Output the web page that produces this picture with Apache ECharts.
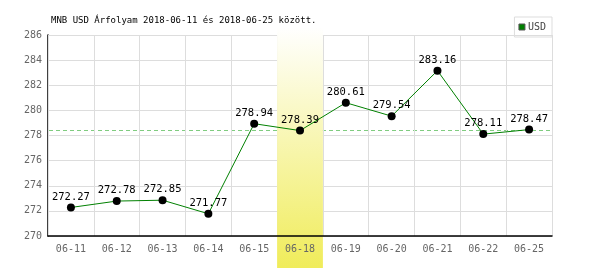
<!DOCTYPE html>
<html><head><meta charset="utf-8">
<script src="https://cdn.jsdelivr.net/npm/echarts@6/dist/echarts.min.js"></script>
<style>html,body{margin:0;padding:0;background:#fff}#c{width:600px;height:270px}</style>
</head><body><div id="c"></div>
<script>
const categories = ['06-11','06-12','06-13','06-14','06-15','06-18','06-19','06-20','06-21','06-22','06-25'];
const usdValues = [272.27,272.78,272.85,271.77,278.94,278.39,280.61,279.54,283.16,278.11,278.47];
const referenceLine = 278.47;
const highlightCategory = '06-18';
const titleText = 'MNB USD Árfolyam 2018-06-11 és 2018-06-25 között.';
const seriesName = 'USD';

const mono = 'DejaVu Sans Mono';
const chart = echarts.init(document.getElementById('c'), null, {renderer:'canvas'});
const option = {
  animation:false,
  title:{text:titleText,left:46,top:11,textStyle:{fontFamily:mono,fontSize:9,fontWeight:'normal',color:'#000'}},
  legend:{data:[{name:seriesName,icon:'rect',itemStyle:{color:'#008000',borderColor:'#555',borderWidth:1}}],right:48,top:17,
    itemWidth:6,itemHeight:6,itemGap:3,padding:[5,6,5,4],borderColor:'#ddd',borderWidth:1,
    textStyle:{fontFamily:mono,fontSize:10,color:'#444',padding:[0,0,0,-2]}},
  grid:{left:48,right:48,top:35,bottom:34,show:false},
  xAxis:{type:'category',data:categories,boundaryGap:true,
    axisLine:{lineStyle:{color:'#000',width:1.5}},axisTick:{show:false},
    axisLabel:{fontFamily:mono,fontSize:10,color:'#666',margin:8},
    splitLine:{show:true,lineStyle:{color:'#dddddd',width:1}},z:3},
  yAxis:{type:'value',min:270,max:286,interval:2,
    axisLine:{show:true,lineStyle:{color:'#000',width:1.5}},axisTick:{show:false},
    axisLabel:{fontFamily:mono,fontSize:10,color:'#666',margin:6},
    splitLine:{lineStyle:{color:'#dddddd',width:1}}},
  series:[{name:seriesName,type:'line',data:usdValues,z:5,
    lineStyle:{color:'#008000',width:1},itemStyle:{color:'#000'},
    symbol:'circle',symbolSize:8,
    label:{show:true,position:'top',distance:1,fontFamily:mono,fontSize:10.5,color:'#000'}
  }]
};
chart.setOption(option);
const idx = categories.indexOf(highlightCategory);
const cx = chart.convertToPixel({xAxisIndex:0}, idx);
const c2 = chart.convertToPixel({xAxisIndex:0}, idx+1);
const w = c2 - cx;
const x0 = chart.convertToPixel({xAxisIndex:0}, 0) - w/2;
const x1 = chart.convertToPixel({xAxisIndex:0}, categories.length-1) + w/2;
const ry = Math.round(chart.convertToPixel({yAxisIndex:0}, referenceLine)) + 0.5;
chart.setOption({graphic:[
  {type:'line',z:2,silent:true,shape:{x1:x0+1,y1:ry,x2:x1,y2:ry},
   style:{stroke:'#80cc80',lineWidth:1,lineDash:[4,3]}},
  {type:'rect',z:3,silent:true,
  shape:{x:cx-w/2,y:27,width:w,height:241},
  style:{fill:new echarts.graphic.LinearGradient(0,0,0,1,[{offset:0,color:'#ffffff'},{offset:1,color:'#f0ec5a'}])}}]});
</script></body></html>
